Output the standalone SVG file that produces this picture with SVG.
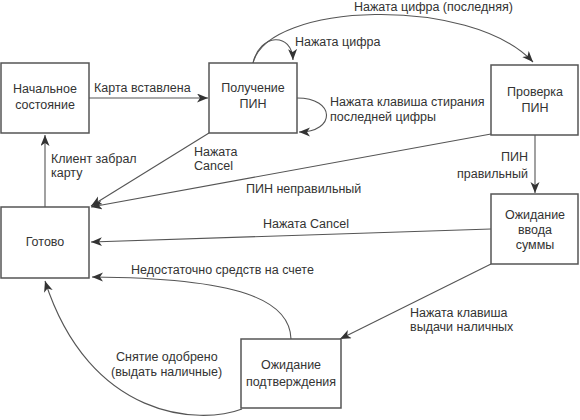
<svg xmlns="http://www.w3.org/2000/svg" width="580" height="420" viewBox="0 0 580 420">
<style>
text{font-family:"Liberation Sans",Arial,sans-serif;font-size:12.5px;fill:#333}
.n rect{fill:#fff;stroke:#555;stroke-width:1.5}
.n text{text-anchor:middle}
#connectors path{fill:none;stroke:#555;stroke-width:1.1}
</style>
<defs>
<marker id="ah" markerUnits="userSpaceOnUse" markerWidth="12" markerHeight="10" refX="11" refY="4.5" orient="auto">
<path d="M0,0 L11,4.5 L0,9 L3,4.5 z" fill="#333"/>
</marker>
</defs>
<rect width="580" height="420" fill="#fff"/>
<g id="connectors">
<path d="M89,98 L208,98" marker-end="url(#ah)"/>
<path d="M253,63 C260,33 292,32 293,60" marker-end="url(#ah)"/>
<path d="M253,63 C268,2 470,-5 533,62" marker-end="url(#ah)"/>
<path d="M297,98 C336,98 336,132 299,132" marker-end="url(#ah)"/>
<path d="M209,133 L91,206" marker-end="url(#ah)"/>
<path d="M491,134 L91,207" marker-end="url(#ah)"/>
<path d="M535,135 L535,193" marker-end="url(#ah)"/>
<path d="M491,229 L91,242" marker-end="url(#ah)"/>
<path d="M491,264 L340,339" marker-end="url(#ah)"/>
<path d="M291,339 C290,300 240,278 92,277" marker-end="url(#ah)"/>
<path d="M242,409 C200,425 90,420 45,281" marker-end="url(#ah)"/>
<path d="M45,207 L45,135" marker-end="url(#ah)"/>
<text x="94" y="92">Карта вставлена</text>
<text x="295" y="46">Нажата цифра</text>
<text x="354" y="11">Нажата цифра (последняя)</text>
<text x="330" y="106">Нажата клавиша стирания</text>
<text x="330" y="121">последней цифры</text>
<text x="194" y="156">Нажата</text>
<text x="194" y="170">Cancel</text>
<text x="51" y="163">Клиент забрал</text>
<text x="51" y="177">карту</text>
<text x="246" y="193">ПИН неправильный</text>
<text x="528" y="161" text-anchor="end">ПИН</text>
<text x="528" y="178" text-anchor="end">правильный</text>
<text x="263" y="228">Нажата Cancel</text>
<text x="131" y="274">Недостаточно средств на счете</text>
<text x="410" y="317">Нажата клавиша</text>
<text x="410" y="331">выдачи наличных</text>
<text x="116" y="361">Снятие одобрено</text>
<text x="111" y="376">(выдать наличные)</text>
</g>
<g id="n-start" class="n">
<rect x="1" y="63" width="88" height="70"/>
<text x="45" y="93">Начальное</text>
<text x="45" y="109">состояние</text>
</g>
<g id="n-pin" class="n">
<rect x="209" y="63" width="88" height="70"/>
<text x="253" y="92">Получение</text>
<text x="253" y="108">ПИН</text>
</g>
<g id="n-check" class="n">
<rect x="491" y="65" width="87" height="70"/>
<text x="535" y="96">Проверка</text>
<text x="535" y="112">ПИН</text>
</g>
<g id="n-ready" class="n">
<rect x="1" y="207" width="88" height="71"/>
<text x="45" y="246">Готово</text>
</g>
<g id="n-amount" class="n">
<rect x="491" y="194" width="87" height="70"/>
<text x="535" y="219">Ожидание</text>
<text x="535" y="234">ввода</text>
<text x="535" y="249">суммы</text>
</g>
<g id="n-confirm" class="n">
<rect x="241" y="339" width="100" height="69"/>
<text x="291" y="369">Ожидание</text>
<text x="291" y="386">подтверждения</text>
</g>
</svg>
